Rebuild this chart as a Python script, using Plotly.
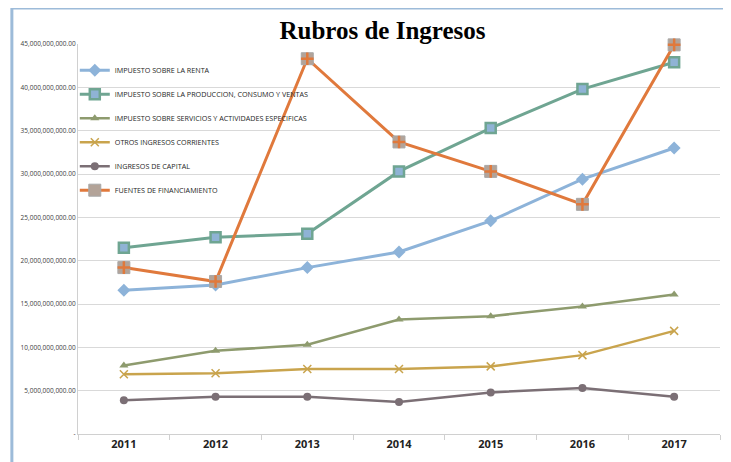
import plotly.graph_objects as go

# Data (values in pesos)
years = ["2011", "2012", "2013", "2014", "2015", "2016", "2017"]
renta = [16.6e9, 17.2e9, 19.2e9, 21.0e9, 24.6e9, 29.4e9, 33.0e9]
produccion = [21.5e9, 22.7e9, 23.1e9, 30.3e9, 35.3e9, 39.8e9, 42.9e9]
servicios = [7.9e9, 9.6e9, 10.3e9, 13.2e9, 13.6e9, 14.7e9, 16.1e9]
otros = [6.9e9, 7.0e9, 7.5e9, 7.5e9, 7.8e9, 9.1e9, 11.9e9]
capital = [3.9e9, 4.3e9, 4.3e9, 3.7e9, 4.8e9, 5.3e9, 4.3e9]
financiamiento = [19.2e9, 17.6e9, 43.3e9, 33.7e9, 30.3e9, 26.5e9, 44.9e9]

y_ticks = [0, 5e9, 10e9, 15e9, 20e9, 25e9, 30e9, 35e9, 40e9, 45e9]
y_labels = ["-"] + [f"{v:,.2f}" for v in y_ticks[1:]]

BLUE = "#8DB3D9"
TEAL = "#6FA592"
OLIVE = "#8E9B6E"
GOLD = "#C9A44D"
MAUVE = "#7B6F75"
ORANGE = "#E0793C"
FRAME = "#9DBBD9"

series = [
    ("IMPUESTO SOBRE LA RENTA", renta, BLUE, dict(symbol="diamond", size=10, color=BLUE), 3),
    ("IMPUESTO SOBRE LA PRODUCCION, CONSUMO Y VENTAS", produccion, TEAL,
     dict(symbol="square", size=10, color="#8FB3D5", line=dict(color=TEAL, width=2.5)), 3),
    ("IMPUESTO SOBRE SERVICIOS Y ACTIVIDADES ESPECIFICAS", servicios, OLIVE,
     dict(symbol="triangle-up", size=8, color=OLIVE), 2.5),
    ("OTROS INGRESOS CORRIENTES", otros, GOLD,
     dict(symbol="x-thin", size=8, line=dict(color=GOLD, width=1.5)), 2.5),
    ("INGRESOS DE CAPITAL", capital, MAUVE, dict(symbol="circle", size=8, color=MAUVE), 2.5),
    ("FUENTES DE FINANCIAMIENTO", financiamiento, ORANGE,
     dict(symbol="square", size=12, color="#B3A398", line=dict(color="#A8A8A8", width=1)), 3),
]

fig = go.Figure()
for i, (name, vals, color, marker, width) in enumerate(series):
    fig.add_trace(go.Scatter(
        x=years, y=vals, name=name, mode="lines+markers",
        line=dict(color=color, width=width), marker=marker,
        legendgroup=f"g{i}", cliponaxis=False,
    ))

# orange plus on top of the financiamiento squares
fig.add_trace(go.Scatter(
    x=years, y=financiamiento, mode="markers", showlegend=False,
    marker=dict(symbol="cross-thin", size=9, line=dict(color=ORANGE, width=2.5)),
    cliponaxis=False, hoverinfo="skip",
))

# light blue chart frame (only left and top edges fall inside the page)
fig.add_shape(type="rect", xref="paper", yref="paper",
              x0=-0.103, x1=1.2, y0=-0.3, y1=1.092,
              line=dict(color=FRAME, width=3), layer="below")

# page body has an 8px margin, so the figure is shrunk by that much
fig.update_layout(
    width=723, height=454,
    paper_bgcolor="white", plot_bgcolor="white",
    margin=dict(l=70, r=11, t=36, b=28),
    title=dict(text="<b>Rubros de Ingresos</b>", x=0.518, xanchor="center", y=0.95, yanchor="middle",
               font=dict(family="Liberation Serif", size=25, color="#000")),
    font=dict(family="Open Sans, sans-serif", color="#404040"),
    showlegend=True,
    legend=dict(x=-0.005, y=0.97, xanchor="left", yanchor="top",
                bgcolor="rgba(0,0,0,0)", font=dict(size=7.2, color="#262626"),
                tracegroupgap=5, itemwidth=30),
    xaxis=dict(type="category", range=[-0.5, 6.5], showgrid=False, automargin=False,
               showline=True, linecolor="#D0D0D0", linewidth=1,
               ticks="outside", tickson="boundaries", ticklen=5, tickcolor="#D0D0D0",
               tickfont=dict(size=11, color="#222", family="Open Sans, sans-serif"),
               tickprefix="<b>", ticksuffix="</b>"),
    yaxis=dict(range=[0, 45e9], tickvals=y_ticks, ticktext=y_labels, automargin=False,
               showgrid=True, gridcolor="#D9D9D9", gridwidth=1,
               showline=True, linecolor="#D0D0D0", linewidth=1,
               zeroline=False, ticks="", tickfont=dict(size=6.5, color="#404040")),
)

fig.write_html("out.html")
